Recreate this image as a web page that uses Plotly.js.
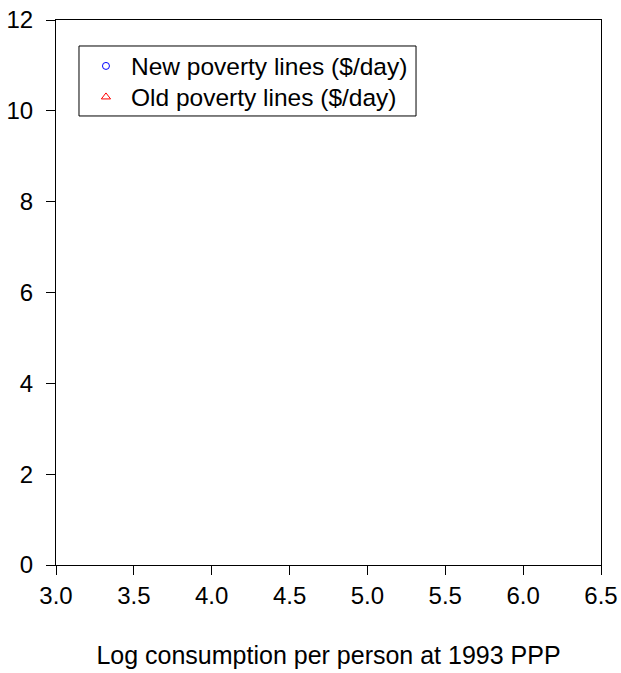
<!DOCTYPE html>
<html>
<head>
<meta charset="utf-8">
<script src="https://cdn.plot.ly/plotly-3.0.1.min.js"></script>
<style>html,body{margin:0;padding:0;background:#fff;}#chart{width:621px;height:673px;}</style>
</head>
<body>
<div id="chart"></div>
<script>
// The reference plot shows no data marks, only the legend entries.
var seriesNames = ["New poverty lines ($/day)", "Old poverty lines ($/day)"];
var newLogCons = [null];
var newLines = [null];
var oldLogCons = [null];
var oldLines = [null];
var xTicks = [3.0, 3.5, 4.0, 4.5, 5.0, 5.5, 6.0, 6.5];
var xTickText = ["3.0", "3.5", "4.0", "4.5", "5.0", "5.5", "6.0", "6.5"];
var yTicks = [0, 2, 4, 6, 8, 10, 12];

var font = "Liberation Sans, Arial, sans-serif";
var traces = [
  {x: newLogCons, y: newLines, name: seriesNames[0], type: "scatter", mode: "markers", showlegend: true, legend: "legend",
   marker: {symbol: "circle-open", color: "#0000ff", size: 7, line: {width: 1}}},
  {x: oldLogCons, y: oldLines, name: seriesNames[1], type: "scatter", mode: "markers", showlegend: true, legend: "legend2",
   marker: {symbol: "triangle-up-open", color: "#ff0000", size: 8, line: {width: 1}}}
];
var axisCommon = {showgrid: false, zeroline: false, showline: true, linecolor: "#000", linewidth: 1,
  mirror: true, ticks: "outside", ticklen: 9, tickcolor: "#000", tickfont: {family: font, size: 24, color: "#000"}};
var legendCommon = {xanchor: "left", yanchor: "middle", bgcolor: "rgba(0,0,0,0)", borderwidth: 0,
  font: {family: font, size: 24.5, color: "#000"}, itemwidth: 40};
var layout = {
  width: 621, height: 673,
  margin: {l: 56, r: 20, t: 20, b: 108},
  paper_bgcolor: "#fff", plot_bgcolor: "#fff",
  font: {family: font, color: "#000"},
  xaxis: Object.assign({}, axisCommon, {range: [3.0, 6.5], tickvals: xTicks, ticktext: xTickText,
    title: {text: "Log consumption per person at 1993 PPP", font: {family: font, size: 25, color: "#000"}, standoff: 38}}),
  yaxis: Object.assign({}, axisCommon, {range: [0, 12], tickvals: yTicks, ticklabelstandoff: 8}),
  legend: Object.assign({}, legendCommon, {x: 0.0458, y: 0.9156}),
  legend2: Object.assign({}, legendCommon, {x: 0.0458, y: 0.8587}),
  shapes: [{type: "rect", xref: "paper", yref: "paper", x0: 0.0422, x1: 0.6606, y0: 0.8239, y1: 0.9523,
    line: {color: "#000", width: 1}, fillcolor: "rgba(0,0,0,0)", layer: "above"}],
  showlegend: true
};
Plotly.newPlot("chart", traces, layout, {displayModeBar: false, staticPlot: true});
</script>
</body>
</html>
